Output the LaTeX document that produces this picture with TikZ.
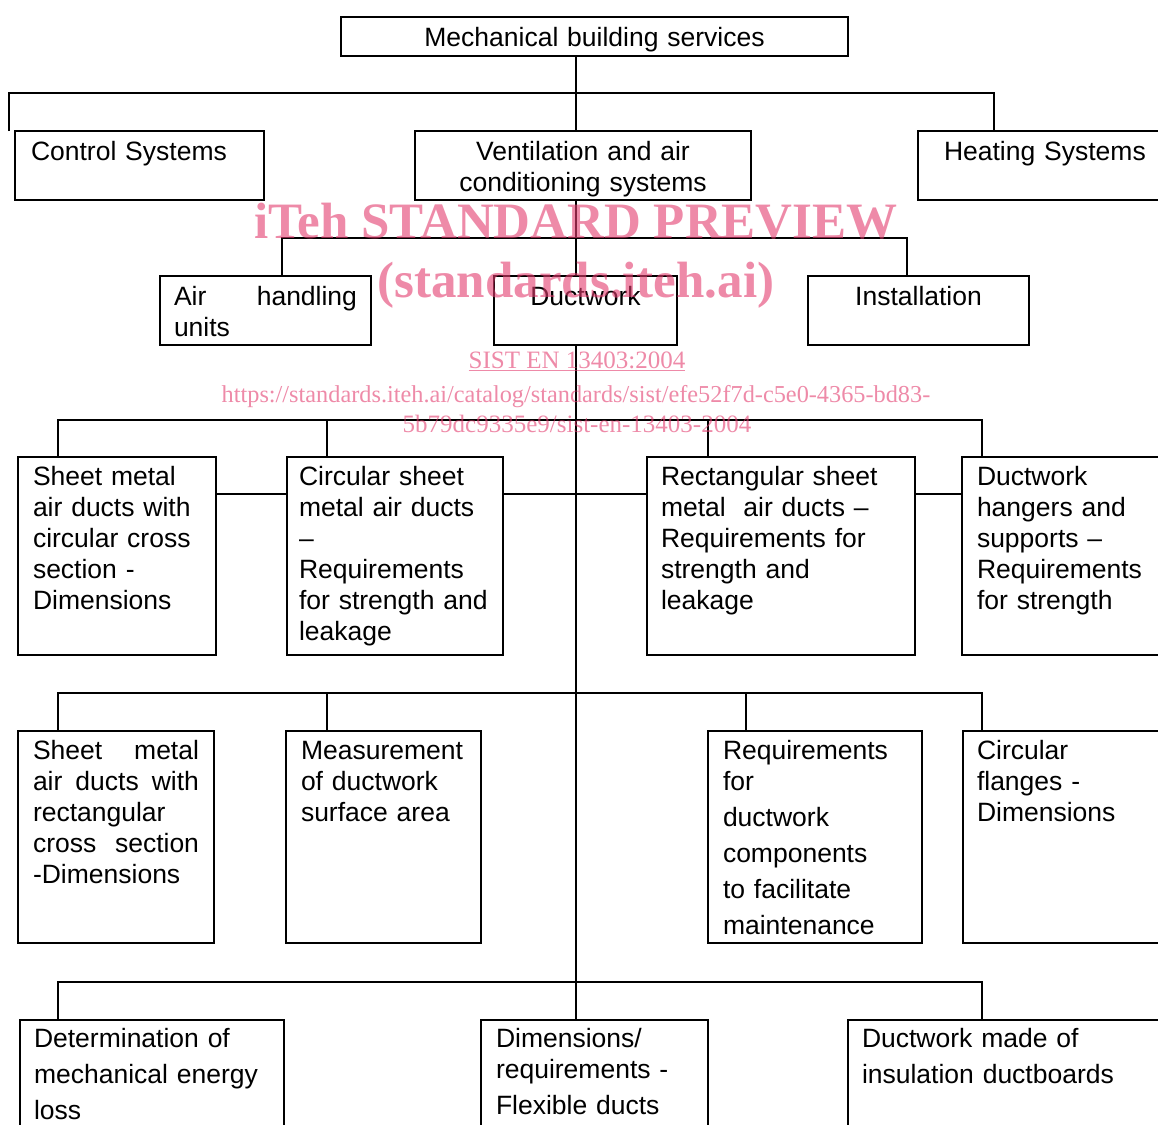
\documentclass[tikz,border=0pt]{standalone}
\usepackage{fontspec}
\setmainfont{Liberation Sans}
\newfontfamily\wmfont{Liberation Serif}
\usetikzlibrary{positioning}
\definecolor{wmpink}{RGB}{226,60,110}

\begin{document}
\begin{tikzpicture}[
    x=1pt, y=-1pt,
    box/.style={draw, rectangle, line width=2pt, anchor=north west, outer sep=0pt,
                inner xsep=15pt, inner ysep=0pt, align=left,
                font=\fontsize{26.5}{31}\selectfont},
    row1/.style={text height=29pt, text depth=40pt},
    row3/.style={text height=28pt, text depth=170pt},
    row4/.style={text height=28pt, text depth=184pt},
    row5/.style={text height=27pt, text depth=120pt},
    link/.style={line width=2pt},
    wm/.style={text=wmpink, text opacity=0.6, anchor=base, inner sep=0pt},
  ]
  \useasboundingbox (0,0) rectangle (1158,1124);
  \coordinate (spine) at (576,0);

  % ---- top ----
  \node[box, align=center, inner xsep=0pt, text width=507pt,
        text height=29pt, text depth=10pt] (mbs) at (341,17) {Mechanical building services};

  % ---- services ----
  \node[box, row1, inner xsep=16pt, text width=217pt] (ctrl) at (15,131) {Control Systems};
  \node[box, row1, align=center, inner xsep=0pt, text width=336pt] (vent) at (415,131)
       {Ventilation and air\\ conditioning systems};
  \node[box, row1, inner xsep=26pt, text width=230pt] (heat) at (918,131) {Heating Systems};

  \coordinate (b1) at (0,93);
  \coordinate (cdrop) at ([xshift=-6pt]ctrl.north west);
  \coordinate (hdrop) at ([xshift=76pt]heat.north west);
  \draw[link] (mbs.south -| spine) -- (vent.north -| spine);
  \draw[link] (cdrop) |- (hdrop |- b1) -- (hdrop);

  % ---- ventilation ----
  \node[box, row1, inner xsep=14pt, text width=183pt] (ahu) at (160,276) {Air\hfill handling\\ units};
  \node[box, row1, align=center, inner xsep=0pt, text width=183pt] (duct) at (494,276) {Ductwork};
  \node[box, row1, align=center, inner xsep=0pt, text width=221pt] (inst) at (808,276) {Installation};

  \coordinate (b2) at (0,238);
  \coordinate (adrop) at ([xshift=122pt]ahu.north west);
  \coordinate (idrop) at ([xshift=99pt]inst.north west);
  \draw[link] (vent.south -| spine) -- (duct.north -| spine);
  \draw[link] (adrop) |- (idrop |- b2) -- (idrop);

  % ---- ductwork, first row ----
  \node[box, row3, text width=168pt] (circdim) at (18,457)
       {Sheet metal\\ air ducts with\\ circular cross\\ section -\\ Dimensions};
  \node[box, row3, inner xsep=12pt, text width=192pt] (circstr) at (287,457)
       {Circular sheet\\ metal air ducts\\ \textendash\\ Requirements\\ for strength and\\ leakage};
  \node[box, row3, inner xsep=14pt, text width=240pt] (rectstr) at (647,457)
       {Rectangular sheet\\ metal\ \ air ducts \textendash\\ Requirements for\\ strength and\\ leakage};
  \node[box, row3, text width=200pt] (hang) at (962,457)
       {Ductwork\\ hangers and\\ supports \textendash\\ Requirements\\ for strength};

  \coordinate (b3) at (0,420);
  \coordinate (h3) at (0,494);
  \coordinate (d31) at ([xshift=40pt]circdim.north west);
  \coordinate (d32) at ([xshift=40pt]circstr.north west);
  \coordinate (d33) at ([xshift=61pt]rectstr.north west);
  \coordinate (d34) at ([xshift=20pt]hang.north west);
  \draw[link] (d31) |- (d34 |- b3) -- (d34);
  \draw[link] (d32) -- (d32 |- b3);
  \draw[link] (d33) -- (d33 |- b3);
  \draw[link] (circdim.north east |- h3) -- (circstr.north west |- h3);
  \draw[link] (circstr.north east |- h3) -- (rectstr.north west |- h3);
  \draw[link] (rectstr.north east |- h3) -- (hang.north west |- h3);

  % ---- ductwork, second row ----
  \node[box, row4, text width=166pt] (rectdim) at (18,731)
       {Sheet\hfill metal\\ air\hfill ducts\hfill with\\ rectangular\\ cross\hfill section\\ -Dimensions};
  \node[box, row4, text width=165pt] (area) at (286,731)
       {Measurement\\ of ductwork\\ surface area};
  \node[box, row4, text width=184pt] (maint) at (708,731)
       {Requirements\\ for\\[5pt] ductwork\\[5pt] components\\[5pt] to facilitate\\[5pt] maintenance};
  \node[box, row4, inner xsep=14pt, text width=200pt] (flange) at (963,731)
       {Circular\\ flanges -\\ Dimensions};

  \coordinate (b4) at (0,693);
  \coordinate (d41) at ([xshift=40pt]rectdim.north west);
  \coordinate (d42) at ([xshift=41pt]area.north west);
  \coordinate (d43) at ([xshift=38pt]maint.north west);
  \coordinate (d44) at ([xshift=19pt]flange.north west);
  \draw[link] (d41) |- (d44 |- b4) -- (d44);
  \draw[link] (d42) -- (d42 |- b4);
  \draw[link] (d43) -- (d43 |- b4);

  % ---- ductwork, third row ----
  \node[box, row5, inner xsep=14pt, text width=236pt] (eloss) at (20,1020)
       {Determination of\\[5pt] mechanical energy\\[5pt] loss};
  \node[box, row5, text width=197pt] (flex) at (481,1020)
       {Dimensions/\\ requirements -\\[5pt] Flexible ducts};
  \node[box, row5, inner xsep=14pt, text width=300pt] (board) at (848,1020)
       {Ductwork made of\\[5pt] insulation ductboards};

  \coordinate (b5) at (0,982);
  \coordinate (d51) at ([xshift=38pt]eloss.north west);
  \coordinate (d53) at ([xshift=134pt]board.north west);
  \draw[link] (d51) |- (d53 |- b5) -- (d53);

  % ductwork spine
  \draw[link] (duct.south -| spine) -- (flex.north -| spine);

  % ---- watermark ----
  \node[wm, font=\wmfont\bfseries\fontsize{51}{60}\selectfont] (wm1) at (576,238) {iTeh STANDARD PREVIEW};
  \node[wm, font=\wmfont\bfseries\fontsize{51}{60}\selectfont] (wm2) at (576,297) {(standards.iteh.ai)};
  \node[wm, font=\wmfont\fontsize{25}{30}\selectfont] (wm3) at (577,368) {\underline{SIST EN 13403:2004}};
  \node[wm, font=\wmfont\fontsize{24.3}{30}\selectfont] (wm4) at (576,402)
       {https://standards.iteh.ai/catalog/standards/sist/efe52f7d-c5e0-4365-bd83-};
  \node[wm, font=\wmfont\fontsize{25}{30}\selectfont] (wm5) at (577,432) {5b79dc9335e9/sist-en-13403-2004};
\end{tikzpicture}
\end{document}
